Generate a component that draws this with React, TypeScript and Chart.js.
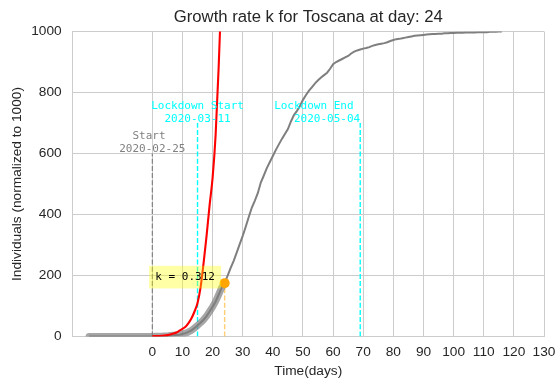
import React, { useEffect, useRef } from 'react';
import { Chart, registerables } from 'chart.js';

Chart.register(...registerables);

// ---------- data ----------
const TITLE = 'Growth rate k for Toscana at day: 24';
const X_LABEL = 'Time(days)';
const Y_LABEL = 'Individuals (normalized to 1000)';
const X_TICKS = [0, 10, 20, 30, 40, 50, 60, 70, 80, 90, 100, 110, 120, 130];
const Y_TICKS = [0, 200, 400, 600, 800, 1000];
const X_MIN = -26.5;
const X_MAX = 130;
const Y_MIN = 0;
const Y_MAX = 1000;

// observed cases (normalized), one value per day starting at GRAY_FIRST_DAY
const GRAY_FIRST_DAY = -21;
const grayValues = [
  0, 0, 0, 0, 0, 0, 0, 0, 0, 0, 0, 0, 0, 0, 0, 0, 0, 0, 0, 0, 0, 0, // -21..0
  0.5, 1, 1, 2, 2, 3, 4, 5, 6, 8, // 1..10
  11, 15, 20, 28, 36, 45, 55, 67, 82, 97, // 11..20
  115, 137, 160, 175, 200, 225, 248, 275, 303, 330, // 21..30
  360, 392, 422, 445, 470, 505, 528, 552, 572, 592, // 31..40
  612, 630, 648, 664, 680, 705, 726, 740, 756, 776, // 41..50
  792, 806, 818, 830, 840, 849, 857, 865, 878, 893, // 51..60
  900, 905, 910, 915, 920, 928, 934, 938, 941, 944, // 61..70
  946, 949, 953, 956, 958, 960, 962, 965, 969, 972, // 71..80
  975, 976, 978, 980, 982, 984, 986, 987, 988, 989, // 81..90
  990, 991, 992, 992, 993, 993, 994, 994, 995, 995, // 91..100
  996, 996, 996, 997, 997, 997, 997, 998, 998, 998, // 101..110
  998, 999, 999, 999, 1000, 1000, // 111..116
];

// exponential fit curve, one value per day starting at FIT_FIRST_DAY
const FIT_FIRST_DAY = 0;
const fitValues = [
  1, 1.3, 1.8, 2.5, 3.3, 4.5, 6.5, 9.5, 13, 19,
  25, 32, 44, 60, 82, 110, 160, 240, 330, 430,
  520, 660, 880, 1150,
];

const CURRENT_DAY = 24;
const CURRENT_VALUE = 175;
const K_TEXT = 'k = 0.312';

const START_DAY = 0;
const START_TOP = 600;
const START_LINES = ['Start ', '2020-02-25'];
const LOCK_START_DAY = 15;
const LOCK_START_LINES = ['Lockdown Start', '2020-03-11'];
const LOCK_END_DAY = 69;
const LOCK_END_LINES = ['Lockdown End ', '2020-05-04'];
const LOCK_TOP = 700;

// ---------- styling ----------
const SANS = '"Liberation Sans", Arial, sans-serif';
const MONO = '"DejaVu Sans Mono", monospace';
const TEXT_COLOR = '#262626';
const GRID_COLOR = '#cccccc';
const CYAN = '#00ffff';

const annotationPlugin = {
  id: 'annotations',
  afterDatasetsDraw(chart: any) {
    const { ctx, scales } = chart;
    const x = scales.x;
    const y = scales.y;
    ctx.save();
    ctx.font = `11px ${MONO}`;
    ctx.textBaseline = 'middle';

    const label = (lines: string[], day: number, top: number, color: string, align: CanvasTextAlign) => {
      const px = x.getPixelForValue(day);
      const py = y.getPixelForValue(top);
      ctx.fillStyle = color;
      ctx.textAlign = align;
      ctx.fillText(lines[0], px, py - 17);
      ctx.fillText(lines[1], px, py - 4);
    };
    label(START_LINES, START_DAY, START_TOP, '#808080', 'center');
    label(LOCK_START_LINES, LOCK_START_DAY, LOCK_TOP, CYAN, 'center');
    label(LOCK_END_LINES, LOCK_END_DAY, LOCK_TOP, CYAN, 'right');

    // k box
    const ptX = x.getPixelForValue(CURRENT_DAY);
    const ptY = y.getPixelForValue(CURRENT_VALUE);
    const w = ctx.measureText(K_TEXT).width;
    const right = ptX - 9.7;
    const midY = ptY - 6;
    ctx.fillStyle = 'rgba(255,255,0,0.35)';
    ctx.fillRect(right - w - 6.3, midY - 11.3, w + 12.4, 22.6);
    ctx.fillStyle = '#000000';
    ctx.textAlign = 'left';
    ctx.fillText(K_TEXT, right - w, midY);
    ctx.restore();
  },
};

export default function App() {
  const ref = useRef<HTMLCanvasElement | null>(null);

  useEffect(() => {
    if (!ref.current) return;
    const grayPoints = grayValues.map((v, i) => ({ x: GRAY_FIRST_DAY + i, y: v }));
    const bandPoints = grayPoints.filter((p) => p.x <= CURRENT_DAY);
    const fitPoints = fitValues.map((v, i) => ({ x: FIT_FIRST_DAY + i, y: v }));
    const vline = (day: number, top: number) => [
      { x: day, y: Y_MIN },
      { x: day, y: top },
    ];
    const tickFont = { family: SANS, size: 13.7 };
    const plain = (v: any) => String(v);

    const chart = new Chart(ref.current, {
      type: 'line',
      data: {
        datasets: [
          {
            data: [{ x: CURRENT_DAY, y: CURRENT_VALUE }],
            showLine: false,
            pointRadius: 5,
            pointBackgroundColor: '#ffa500',
            pointBorderWidth: 0,
            order: 0,
          },
          {
            data: fitPoints,
            borderColor: '#ff0000',
            borderWidth: 2.1,
            pointRadius: 0,
            cubicInterpolationMode: 'monotone',
            order: 1,
          },
          {
            data: grayPoints,
            borderColor: '#7f7f7f',
            borderWidth: 2,
            pointRadius: 0,
            order: 2,
          },
          {
            data: bandPoints,
            borderColor: 'rgba(128,128,128,0.7)',
            borderWidth: 7,
            pointRadius: 0,
            borderJoinStyle: 'round',
            borderCapStyle: 'round',
            order: 3,
          },
          {
            data: vline(START_DAY, START_TOP),
            borderColor: '#808080',
            borderWidth: 1.2,
            borderDash: [5, 2.2],
            pointRadius: 0,
            order: 4,
          },
          {
            data: vline(LOCK_START_DAY, LOCK_TOP),
            borderColor: CYAN,
            borderWidth: 1.4,
            borderDash: [5, 2.2],
            pointRadius: 0,
            order: 4,
          },
          {
            data: vline(LOCK_END_DAY, LOCK_TOP),
            borderColor: CYAN,
            borderWidth: 1.4,
            borderDash: [5, 2.2],
            pointRadius: 0,
            order: 4,
          },
          {
            data: vline(CURRENT_DAY, CURRENT_VALUE),
            borderColor: 'rgba(255,165,0,0.55)',
            borderWidth: 1.4,
            borderDash: [5, 2.2],
            pointRadius: 0,
            order: 4,
          },
        ],
      },
      options: {
        responsive: false,
        animation: false,
        clip: 0 as any,
        layout: { padding: { left: 0, right: 11, top: 0, bottom: 0 } },
        plugins: {
          legend: { display: false },
          tooltip: { enabled: false },
          title: {
            display: true,
            text: TITLE,
            fullSize: false,
            color: TEXT_COLOR,
            font: { family: SANS, size: 16.7, weight: 'normal' },
            padding: { top: 7.5, bottom: 4 },
          },
        },
        scales: {
          x: {
            type: 'linear',
            min: X_MIN,
            max: X_MAX,
            afterBuildTicks: (s: any) => {
              s.ticks = X_TICKS.map((v) => ({ value: v }));
            },
            afterFit: (s: any) => {
              s.height = 45.5;
              s.paddingLeft = 0;
              s.paddingRight = 0;
            },
            ticks: {
              padding: 7.6,
              color: TEXT_COLOR,
              font: tickFont,
              autoSkip: false,
              maxRotation: 0,
              callback: plain,
            },
            grid: { color: GRID_COLOR, drawTicks: false, lineWidth: 1 },
            border: { display: true, color: GRID_COLOR, width: 1 },
            title: {
              display: true,
              text: X_LABEL,
              color: TEXT_COLOR,
              font: tickFont,
              padding: { top: 0, bottom: 2.1 },
            },
          },
          y: {
            type: 'linear',
            min: Y_MIN,
            max: Y_MAX,
            afterBuildTicks: (s: any) => {
              s.ticks = Y_TICKS.map((v) => ({ value: v }));
            },
            afterFit: (s: any) => {
              s.width = 72.5;
              s.paddingTop = 0;
              s.paddingBottom = 0;
            },
            ticks: {
              padding: 10.8,
              color: TEXT_COLOR,
              font: tickFont,
              callback: plain,
            },
            grid: { color: GRID_COLOR, drawTicks: false, lineWidth: 1 },
            border: { display: true, color: GRID_COLOR, width: 1 },
            title: {
              display: true,
              text: Y_LABEL,
              color: TEXT_COLOR,
              font: tickFont,
              padding: { top: 9.5, bottom: 0 },
            },
          },
        },
      },
      plugins: [annotationPlugin],
    } as any);
    return () => chart.destroy();
  }, []);

  return (
    <div style={{ position: 'fixed', left: 0, top: 0, width: 555, height: 382, background: '#ffffff' }}>
      <canvas ref={ref} width={555} height={382} style={{ display: 'block' }} />
    </div>
  );
}
